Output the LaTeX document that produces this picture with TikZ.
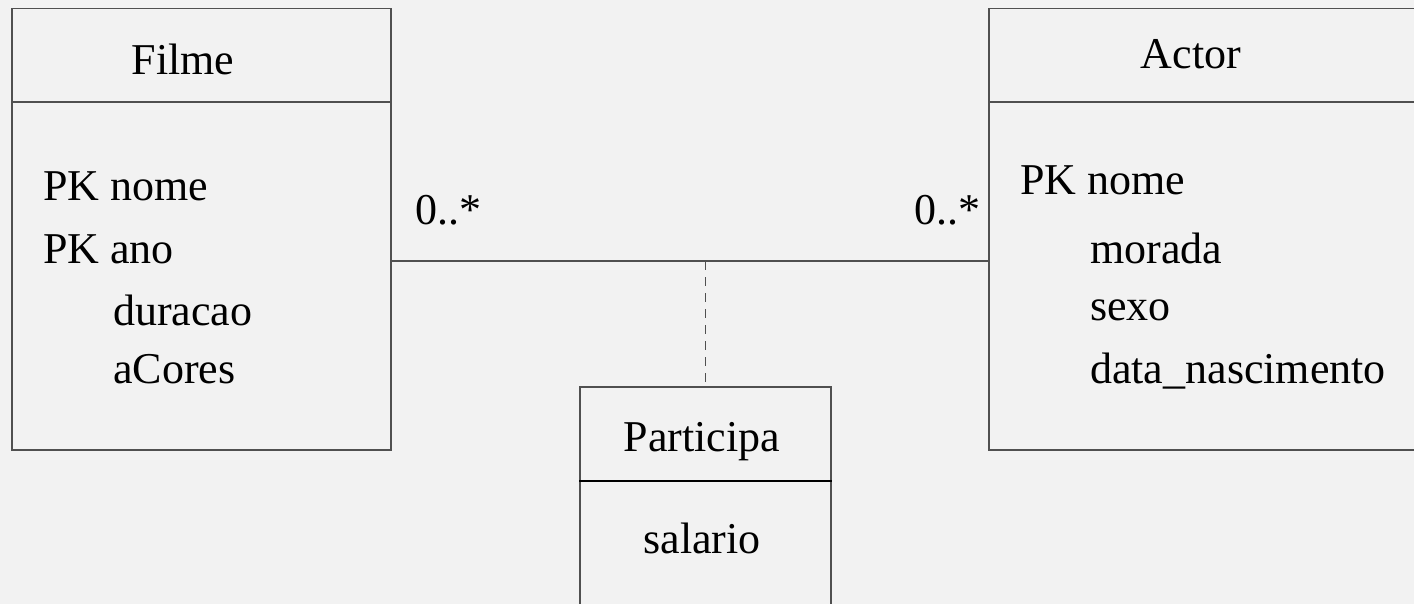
\documentclass[tikz,border=0pt]{standalone}
\usepackage{fontspec}
\setmainfont{Liberation Serif}
\definecolor{bgcol}{HTML}{F2F2F2}
\definecolor{linecol}{HTML}{505050}
\tikzset{
  classbox/.style={draw=linecol, line width=1.5pt, rectangle, anchor=north west, inner sep=0pt},
  attr/.style={anchor=base west, inner sep=0pt, font=\fontsize{44}{50}\selectfont},
  title/.style={anchor=base, inner sep=0pt, font=\fontsize{44}{50}\selectfont},
  conn/.style={draw=linecol, line width=1.5pt},
}
\begin{document}
\begin{tikzpicture}[x=1pt, y=-1pt]
          \useasboundingbox (0,0) rectangle (1414,604);
          \fill[bgcol] (0,0) rectangle (1414,604);
          \clip (0,0) rectangle (1414,604);
          % classes
          \node[classbox, minimum width=379pt, minimum height=441pt] (filme) at (11,8){};
          \node[classbox, minimum width=440pt, minimum height=441pt] (actor) at (988,8){};
          \node[classbox, minimum width=251pt, minimum height=240pt] (part) at (579,386){};
          \coordinate (fdiv) at (0,102);
          \coordinate (pdiv) at (0,481);
          \draw[conn](filme.west |- fdiv) -- (filme.east |- fdiv);
          \draw[conn](actor.west |- fdiv) -- (actor.east |- fdiv);
          \draw[line width=1.5pt](part.west |- pdiv) -- (part.east |- pdiv);
          % Filme
          \node[title] (tfilme) at (183,75){Filme};
          \node[attr] (fpk1) at (43,201){PK nome};
          \node[attr] (fpk2) at (43,263){PK ano};
          \node[attr] (fdur) at (113,325){duracao};
          \node[attr] (fcor) at (113,383){aCores};
          % Actor
          \node[title] (tactor) at (1191,69){Actor};
          \node[attr] (apk) at (1020,195){PK nome};
          \node[attr] (amor) at (1090,263){morada};
          \node[attr] (asex) at (1090,320){sexo};
          \node[attr] (adat) at (1090,383){data\_nascimento};
          % Participa
          \node[title] (tpart) at (702,451){Participa};
          \node[title] (psal) at (702,553){salario};
          % association
          \coordinate (fa) at (filme.east |- 0,261);
          \coordinate (aa) at (actor.west |- 0,261);
          \coordinate (mid) at (part.north |- 0,261);
          \draw[conn](fa) -- (aa);
          \draw[conn, dash pattern=on 9pt off 7pt](mid) -- (part.north);
          \node[attr] (mfilme) at (415,225){0..*};
          \node[attr] (mactor) at (914,225){0..*};
        \end{tikzpicture}
\end{document}
